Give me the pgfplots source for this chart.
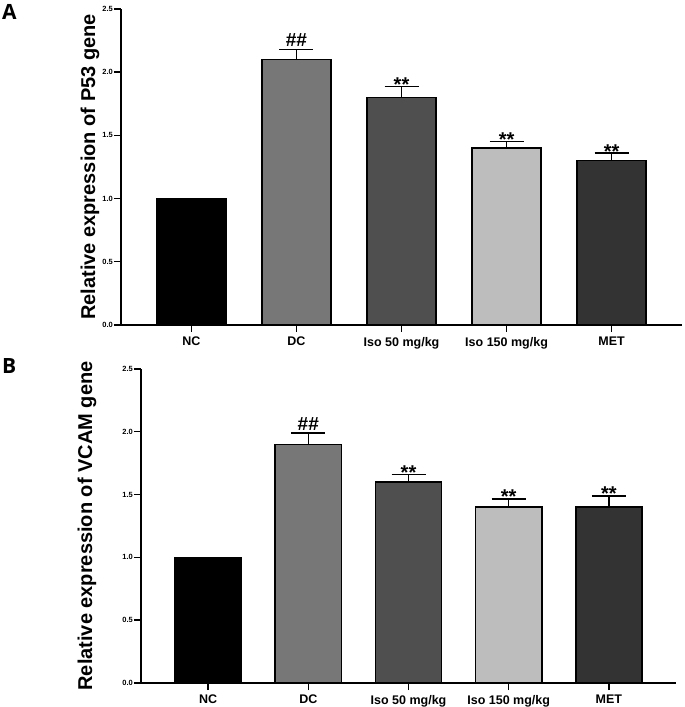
\documentclass[border=0pt]{standalone}
\usepackage{pgfplots}
\pgfplotsset{compat=1.18}
\usepackage{fontspec}
\setmainfont{Liberation Sans}
\newfontfamily\letterfont{Open Sans}
\definecolor{cNC}{HTML}{000000}
\definecolor{cDC}{HTML}{777777}
\definecolor{cIsoA}{HTML}{4F4F4F}
\definecolor{cIsoB}{HTML}{BDBDBD}
\definecolor{cMET}{HTML}{333333}
\tikzset{
  sig/.style={font=\bfseries\fontsize{20}{22}\selectfont, anchor=base, yshift=-5pt},
  hash/.style={font=\bfseries\fontsize{19}{20}\selectfont, anchor=base, yshift=3pt},
}
\pgfplotsset{
  panel/.style={
    scale only axis,
    axis x line=bottom, axis y line=left,
    axis line style={-, line width=1.6pt},
    xmin=-0.67, xmax=4.67, ymin=0, ymax=2.5,
    xtick={0,1,2,3,4},
    xticklabels={NC,DC,Iso 50 mg/kg,Iso 150 mg/kg,MET},
    ytick={0,0.5,1,1.5,2,2.5},
    tick align=outside,
    major tick length=7pt,
    tick style={line width=1.4pt, black},
    yticklabel style={font=\bfseries\fontsize{7.5}{9}\selectfont, inner sep=1pt},
    xticklabel style={font=\bfseries\fontsize{12.5}{14}\selectfont, inner sep=2pt, yshift=-3pt},
    /pgf/number format/.cd, fixed, fixed zerofill, precision=1, assume math mode=true,
    /pgfplots/.cd,
    every axis plot/.append style={ybar, bar width=0.66, bar shift=0pt, draw=black, line width=1.6pt},
    error bars/y dir=plus, error bars/y explicit,
    error bars/error bar style={line width=1.3pt, black},
    error bars/error mark options={line width=1.3pt, black, mark size=17pt, rotate=90},
    clip=false,
  },
  ylab/.style={every axis y label/.style={at={(axis description cs:0,0.5)}, rotate=90, anchor=center, yshift=#1,
    font=\bfseries\fontsize{20}{22}\selectfont}},
}
\begin{document}
\begin{tikzpicture}[x=1pt,y=1pt]
\useasboundingbox (0,0) rectangle (685,707);
\node[anchor=north west, inner sep=0pt, font=\letterfont\bfseries\fontsize{21}{22}\selectfont] at (2,703) {A};
\node[anchor=north west, inner sep=0pt, font=\letterfont\bfseries\fontsize{21}{22}\selectfont] at (2,349) {B};
% Panel A
\begin{axis}[panel, at={(121pt,382pt)}, anchor=south west, width=561pt, height=316pt,
  ylab=31pt, ylabel={Relative expression of P53 gene}]
\addplot[fill=cNC] coordinates {(0,1.00)};
\addplot[fill=cDC] coordinates {(1,2.10) +- (0,0.08)};
\addplot[fill=cIsoA] coordinates {(2,1.80) +- (0,0.085)};
\addplot[fill=cIsoB] coordinates {(3,1.40) +- (0,0.05)};
\addplot[fill=cMET] coordinates {(4,1.30) +- (0,0.06)};
\node[hash] at (axis cs:1,2.18) {\#\#};
\node[sig] at (axis cs:2,1.885) {**};
\node[sig] at (axis cs:3,1.45) {**};
\node[sig] at (axis cs:4,1.36) {**};
\end{axis}
% Panel B
\begin{axis}[panel, at={(141pt,24pt)}, anchor=south west, width=535pt, height=314pt,
  ylab=54pt, ylabel={Relative expression of VCAM gene}]
\addplot[fill=cNC] coordinates {(0,1.00)};
\addplot[fill=cDC] coordinates {(1,1.90) +- (0,0.09)};
\addplot[fill=cIsoA] coordinates {(2,1.60) +- (0,0.06)};
\addplot[fill=cIsoB] coordinates {(3,1.40) +- (0,0.065)};
\addplot[fill=cMET] coordinates {(4,1.40) +- (0,0.09)};
\node[hash] at (axis cs:1,1.99) {\#\#};
\node[sig] at (axis cs:2,1.66) {**};
\node[sig] at (axis cs:3,1.465) {**};
\node[sig] at (axis cs:4,1.49) {**};
\end{axis}
\end{tikzpicture}
\end{document}
